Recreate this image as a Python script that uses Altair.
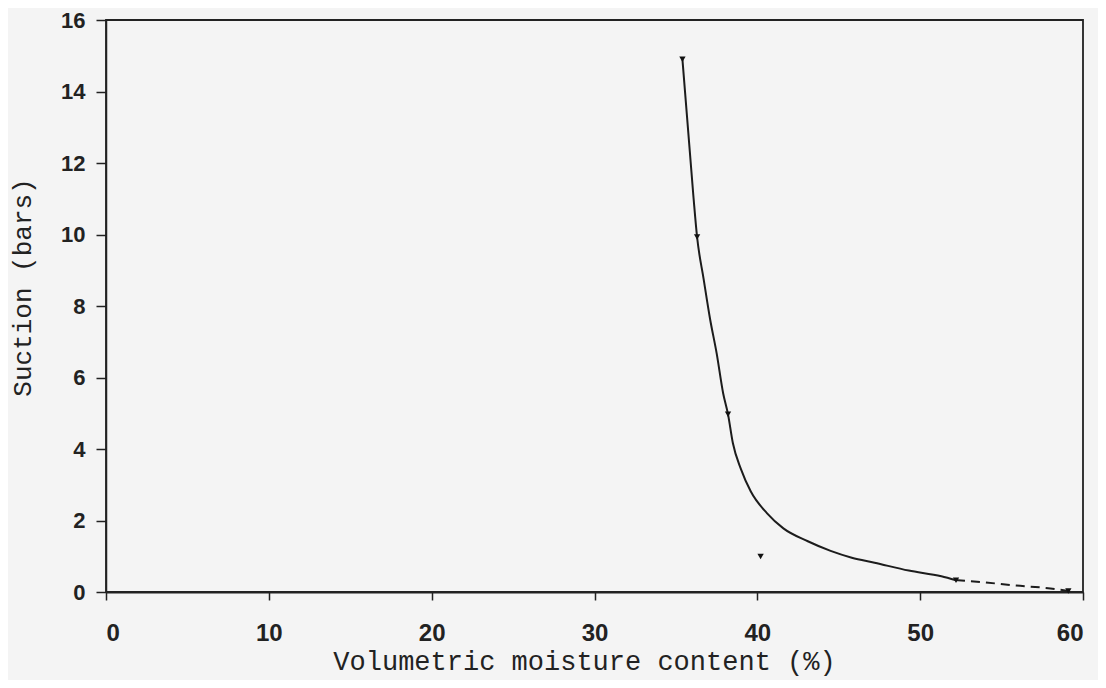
import altair as alt
import pandas as pd

# Solid fitted curve
curve_x = [35.4, 36.07, 36.3, 36.7, 37.1, 37.5, 37.9, 38.2, 38.5, 39.0, 39.6, 40.6, 41.6, 43.1, 44.5, 45.8, 47.2, 49.3, 51.3, 52.2]
curve_y = [14.9, 11.09, 9.93, 8.76, 7.63, 6.68, 5.56, 4.97, 4.16, 3.43, 2.81, 2.20, 1.78, 1.42, 1.15, 0.96, 0.82, 0.60, 0.44, 0.33]

# Dashed extension
dash_x = [52.2, 53.7, 55.9, 58.0, 59.1]
dash_y = [0.33, 0.28, 0.18, 0.10, 0.03]

# Measured points
point_x = [35.4, 36.3, 38.2, 40.2, 52.2, 59.1]
point_y = [14.9, 9.93, 4.97, 0.99, 0.33, 0.03]

x_ticks = [0, 10, 20, 30, 40, 50, 60]
y_ticks = [0, 2, 4, 6, 8, 10, 12, 14, 16]

curve_df = pd.DataFrame({"x": curve_x, "y": curve_y})
dash_df = pd.DataFrame({"x": dash_x, "y": dash_y})
pts_df = pd.DataFrame({"x": point_x, "y": point_y})

xs = alt.Scale(domain=[0, 60], nice=False, zero=False)
ys = alt.Scale(domain=[0, 16], nice=False, zero=False)

x_axis = alt.Axis(values=x_ticks, title="Volumetric moisture content (%)", grid=False,
                  tickSize=8, labelPadding=21,
                  labelFont="Liberation Sans", labelFontSize=24, labelFontWeight="bold",
                  titleFont="Liberation Mono", titleFontSize=27, titleFontWeight="normal",
                  titleX=478, titleY=77, titleBaseline="alphabetic", titleAlign="center",
                  labelColor="#222", titleColor="#222", domainColor="#222", tickColor="#222",
                  domainWidth=1.8, tickWidth=1.5)
y_axis = alt.Axis(values=y_ticks, title="Suction (bars)", grid=False,
                  tickSize=10, labelPadding=11,
                  labelFont="Liberation Sans", labelFontSize=22, labelFontWeight="bold",
                  titleFont="Liberation Mono", titleFontSize=26, titleFontWeight="normal",
                  titleX=-76, titleY=267, titleBaseline="alphabetic", titleAlign="center",
                  titleAngle=270,
                  labelColor="#222", titleColor="#222", domainColor="#222", tickColor="#222",
                  domainWidth=1.5, tickWidth=1.5)

solid = alt.Chart(curve_df).mark_line(color="#1c1c1c", strokeWidth=2, interpolate="monotone").encode(
    x=alt.X("x:Q", scale=xs, axis=x_axis),
    y=alt.Y("y:Q", scale=ys, axis=y_axis),
)
dashed = alt.Chart(dash_df).mark_line(color="#1c1c1c", strokeWidth=2, strokeDash=[9, 6], interpolate="monotone").encode(
    x=alt.X("x:Q", scale=xs),
    y=alt.Y("y:Q", scale=ys),
)
points = alt.Chart(pts_df).mark_point(shape="triangle-down", filled=True, color="#111", size=40, opacity=1).encode(
    x=alt.X("x:Q", scale=xs),
    y=alt.Y("y:Q", scale=ys),
)

chart = (solid + dashed + points).properties(
    width=977, height=572,
    autosize=alt.AutoSizeParams(type="none"),
    padding={"left": 98, "top": 12, "right": 15, "bottom": 88},
    background="#f4f4f4",
).configure_view(stroke="#222", strokeWidth=1.8)

chart.save("out.html", embed_options={"renderer": "svg", "actions": False})
